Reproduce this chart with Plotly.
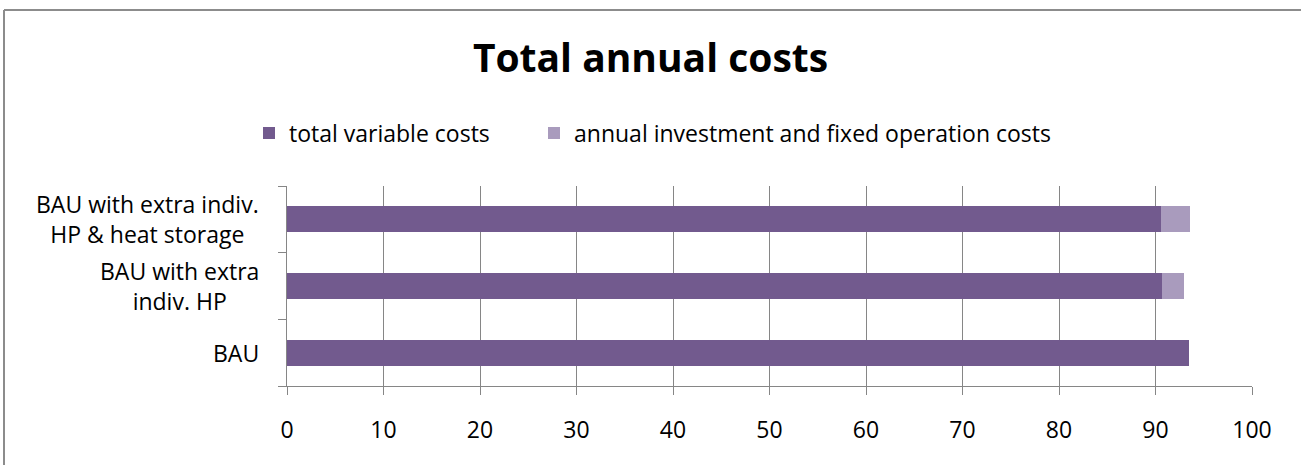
import plotly.graph_objects as go

# Scenarios, bottom to top
scenarios = ["BAU", "BAU with extra indiv. HP", "BAU with extra indiv. HP & heat storage"]
scenario_labels = ["BAU", "BAU with extra<br>indiv. HP", "BAU with extra indiv.<br>HP & heat storage"]

variable_costs = [93.5, 90.7, 90.6]
investment_fixed_costs = [0.0, 2.3, 3.0]

x_ticks = [0, 10, 20, 30, 40, 50, 60, 70, 80, 90, 100]

DARK = "#725A8E"
LIGHT = "#A99BBD"
GRID = "#868686"
FONT = "Open Sans"
FS = 23

W, H = 1301, 465
L, R, T, B = 287, 49, 186, 79
pw, ph = W - L - R, H - T - B

fig = go.Figure()
fig.add_trace(go.Bar(
    y=scenarios, x=variable_costs, orientation="h", name="total variable costs",
    marker=dict(color=DARK, line=dict(width=0)), width=0.39, legend="legend",
))
fig.add_trace(go.Bar(
    y=scenarios, x=investment_fixed_costs, orientation="h",
    name="annual investment and fixed operation costs",
    marker=dict(color=LIGHT, line=dict(width=0)), width=0.39, legend="legend2",
))

# Category labels, centred line by line
for cat, lab in zip(scenarios, scenario_labels):
    fig.add_annotation(
        x=(261 - L) / pw, xref="paper", xanchor="right",
        y=cat, yref="y", yanchor="middle",
        text=lab, showarrow=False, align="center",
        font=dict(family=FONT, size=FS, color="#000000"),
    )

# Chart frame: top and left edges (the rest runs past the page)
frame_left = (4 - L) / pw
frame_top = (T + ph - 10) / ph
frame = dict(color="#8C8C8C", width=2)
fig.add_shape(type="line", xref="paper", yref="paper",
              x0=frame_left, x1=(W + 10 - L) / pw, y0=frame_top, y1=frame_top,
              line=frame, layer="below")
fig.add_shape(type="line", xref="paper", yref="paper",
              x0=frame_left, x1=frame_left, y0=frame_top, y1=-(B + 10) / ph,
              line=frame, layer="below")

legend_common = dict(
    orientation="h", xanchor="left", yanchor="middle",
    y=(ph + T - 133) / ph,
    font=dict(family=FONT, size=FS, color="#000000"),
    bgcolor="rgba(0,0,0,0)", itemwidth=30,
)

fig.update_layout(
    width=W, height=H,
    margin=dict(l=L, r=R, t=T, b=B),
    paper_bgcolor="white", plot_bgcolor="white",
    barmode="stack",
    showlegend=True,
    title=dict(
        text="<b>Total annual costs</b>", x=0.5, xanchor="center",
        y=1 - 58 / H, yanchor="middle",
        font=dict(family=FONT, size=39, color="#000000"),
    ),
    legend=dict(x=(249 - L) / pw, **legend_common),
    legend2=dict(x=(534 - L) / pw, **legend_common),
    xaxis=dict(
        range=[0, 100], tickvals=x_ticks, showgrid=True, gridcolor=GRID, gridwidth=1,
        showline=True, linecolor=GRID, linewidth=1,
        ticks="outside", ticklen=8, tickcolor=GRID, tickwidth=1,
        ticklabelstandoff=15, zeroline=False,
        tickfont=dict(family=FONT, size=FS, color="#000000"), fixedrange=True,
    ),
    yaxis=dict(
        categoryorder="array", categoryarray=scenarios,
        range=[-0.5, 2.5], showgrid=False, showline=True, linecolor=GRID, linewidth=1,
        ticks="outside", ticklen=8, tickcolor=GRID, tickwidth=1, tickson="boundaries",
        showticklabels=False, fixedrange=True,
    ),
)

fig.write_html("out.html")
